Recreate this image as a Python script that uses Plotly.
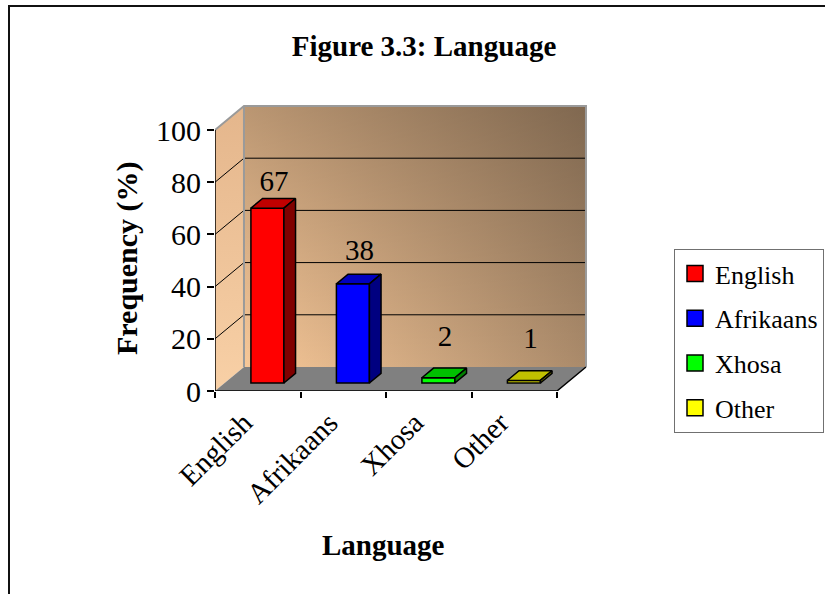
import plotly.graph_objects as go

# ---------------- data ----------------
categories = ["English", "Afrikaans", "Xhosa", "Other"]
frequency = [67, 38, 2, 1]
front_colors = ["#ff0000", "#0000ff", "#00ff00", "#ffff00"]
top_colors = ["#c00000", "#0000c0", "#00c000", "#c0c000"]
side_colors = ["#800000", "#000080", "#008000", "#808000"]
y_ticks = [0, 20, 40, 60, 80, 100]

# ---------------- 3D frame geometry (axis units) ----------------
X0, X1 = -0.5, 3.5        # front floor edge
XR = 3.886                # right end of x range
YTOP = 111.5              # top of y range
YMAX = 100
DX, DY = 0.339, 9.2       # depth of the box
BAR_W = 0.386
F_DX, F_DY = 0.113, 3.07  # bar front offset into depth
B_DX, B_DY = 0.136, 3.7   # bar depth

SERIF = "Liberation Serif"
fig = go.Figure()

def poly(xs, ys, **kw):
    return go.Scatter(x=xs + [xs[0]], y=ys + [ys[0]], mode="lines", fill="toself",
                      hoverinfo="skip", showlegend=False, **kw)

# back wall (diagonal gradient = horizontal + vertical overlay)
bx = [X0 + DX, X1 + DX, X1 + DX, X0 + DX]
by = [DY, DY, YMAX + DY, YMAX + DY]
fig.add_trace(poly(bx, by, line=dict(width=0),
                   fillgradient=dict(type="horizontal", start=X0 + DX, stop=X1 + DX,
                                     colorscale=[[0, "#f8c898"], [1, "#aa8a6a"]])))
fig.add_trace(poly(bx, by, line=dict(width=0),
                   fillgradient=dict(type="vertical", start=DY, stop=YMAX + DY,
                                     colorscale=[[0, "rgba(0,0,0,0)"], [1, "rgba(0,0,0,0.25)"]])))
# side wall
fig.add_trace(poly([X0, X0 + DX, X0 + DX, X0], [0, DY, YMAX + DY, YMAX], line=dict(width=0),
                   fillgradient=dict(type="vertical", start=0, stop=YMAX + DY,
                                     colorscale=[[0, "#f8d0a6"], [1, "#e4b68c"]])))
# floor
fig.add_trace(poly([X0, X1, X1 + DX, X0 + DX], [0, 0, DY, DY], line=dict(width=0),
                   fillcolor="#808080"))

# gridlines on back wall and side wall
gx, gy = [], []
for v in y_ticks[1:-1]:
    gx += [X0 + DX, X1 + DX, None]
    gy += [v + DY, v + DY, None]
for v in y_ticks[1:-1]:
    gx += [X0, X0 + DX, None]
    gy += [v, v + DY, None]
fig.add_trace(go.Scatter(x=gx, y=gy, mode="lines", line=dict(color="black", width=1),
                         hoverinfo="skip", showlegend=False))
# wall outlines
fig.add_trace(go.Scatter(
    x=[X0, X0 + DX, X1 + DX, X1 + DX, None, X0 + DX, X0 + DX],
    y=[YMAX, YMAX + DY, YMAX + DY, DY, None, DY, YMAX + DY],
    mode="lines", line=dict(color="#9a9a9a", width=2), hoverinfo="skip", showlegend=False))
# front / right floor edges and value axis line
fig.add_trace(go.Scatter(x=[X0, X1, X1 + DX], y=[0, 0, DY], mode="lines",
                         line=dict(color="black", width=1.5), hoverinfo="skip", showlegend=False))
fig.add_trace(go.Scatter(x=[X0, X0], y=[0, YMAX], mode="lines",
                         line=dict(color="black", width=1.5), hoverinfo="skip", showlegend=False))

# ---------------- bars (overlay subplot so they sit above the walls) ----------------
centers = [i + F_DX for i in range(len(categories))]
fig.add_trace(go.Bar(x=centers, y=frequency, base=F_DY, width=BAR_W,
                     marker=dict(color=front_colors, line=dict(color="black", width=1.5)),
                     xaxis="x2", yaxis="y2", hoverinfo="skip", showlegend=False))
for c, v, tc, sc in zip(centers, frequency, top_colors, side_colors):
    xa, xb = c - BAR_W / 2, c + BAR_W / 2
    top = F_DY + v
    fig.add_trace(poly([xa, xb, xb + B_DX, xa + B_DX], [top, top, top + B_DY, top + B_DY],
                       fillcolor=tc, line=dict(color="black", width=1.5),
                       xaxis="x2", yaxis="y2"))
    fig.add_trace(poly([xb, xb + B_DX, xb + B_DX, xb], [F_DY, F_DY + B_DY, top + B_DY, top],
                       fillcolor=sc, line=dict(color="black", width=1.5),
                       xaxis="x2", yaxis="y2"))

# data labels (slight perspective foreshortening as in the original 3D chart)
label_y = [F_DY + B_DY + 0.91 * v + 11.5 for v in frequency]
fig.add_trace(go.Scatter(x=[c + B_DX / 2 + 0.01 for c in centers], y=label_y,
                         mode="text", text=[str(v) for v in frequency],
                         textfont=dict(family=SERIF, size=29, color="black"),
                         xaxis="x2", yaxis="y2", hoverinfo="skip", showlegend=False))

# legend entries
for i, (name, col) in enumerate(zip(categories, front_colors)):
    fig.add_trace(go.Scatter(x=[None], y=[None], mode="markers", name=name,
                             legendgroup=f"g{i}",
                             marker=dict(symbol="square", size=17, color=col,
                                         line=dict(color="black", width=1.5))))

L, R, T, B = 215, 590, 100, 391
W, H = 825, 594
def px(x):
    return (x - L) / (R - L)
def py(y):
    return (B - y) / (B - T)

fig.update_layout(
    width=W, height=H,
    margin=dict(l=L, r=W - R, t=T, b=H - B, autoexpand=False),
    paper_bgcolor="white", plot_bgcolor="white",
    font=dict(family=SERIF, color="black"),
    title=dict(text="<b>Figure 3.3: Language</b>", x=424 / W, xanchor="center",
               y=1 - 46 / H, yanchor="middle", font=dict(family=SERIF, size=29)),
    xaxis=dict(range=[X0, XR], tickvals=list(range(len(categories))), ticktext=categories,
               tickangle=-45, ticks="", showgrid=False, zeroline=False, showline=False,
               tickfont=dict(family=SERIF, size=29), ticklabelstandoff=8, ticklabelshift=-14,
               minor=dict(tickvals=[X0 + k for k in range(len(categories) + 1)],
                          ticks="outside", ticklen=6, tickcolor="black", tickwidth=1.5)),
    yaxis=dict(range=[0, YTOP], tickvals=y_ticks, ticks="outside", ticklen=7,
               tickcolor="black", tickwidth=1.5, showgrid=False, zeroline=False, showline=False,
               tickfont=dict(family=SERIF, size=30)),
    xaxis2=dict(range=[X0, XR], overlaying="x", visible=False),
    yaxis2=dict(range=[0, YTOP], overlaying="y", visible=False),
    showlegend=True,
    legend=dict(x=px(674), y=py(249), xanchor="left", yanchor="top",
                bordercolor="#707070", borderwidth=1, bgcolor="white",
                font=dict(family=SERIF, size=26), tracegroupgap=8),
    annotations=[
        dict(text="<b>Frequency (%)</b>", xref="paper", yref="paper", x=px(127), y=py(258),
             xanchor="center", yanchor="middle",
             textangle=-90, showarrow=False, font=dict(family=SERIF, size=30)),
        dict(text="<b>Language</b>", xref="paper", yref="paper", x=px(383), y=py(545),
             xanchor="center", yanchor="middle",
             showarrow=False, font=dict(family=SERIF, size=29)),
    ],
    shapes=[
        dict(type="rect", xref="paper", yref="paper", x0=px(9), y0=py(640), x1=px(880), y1=py(6),
             line=dict(color="#111111", width=2), layer="below"),
    ],
)

fig.write_html("out.html")
